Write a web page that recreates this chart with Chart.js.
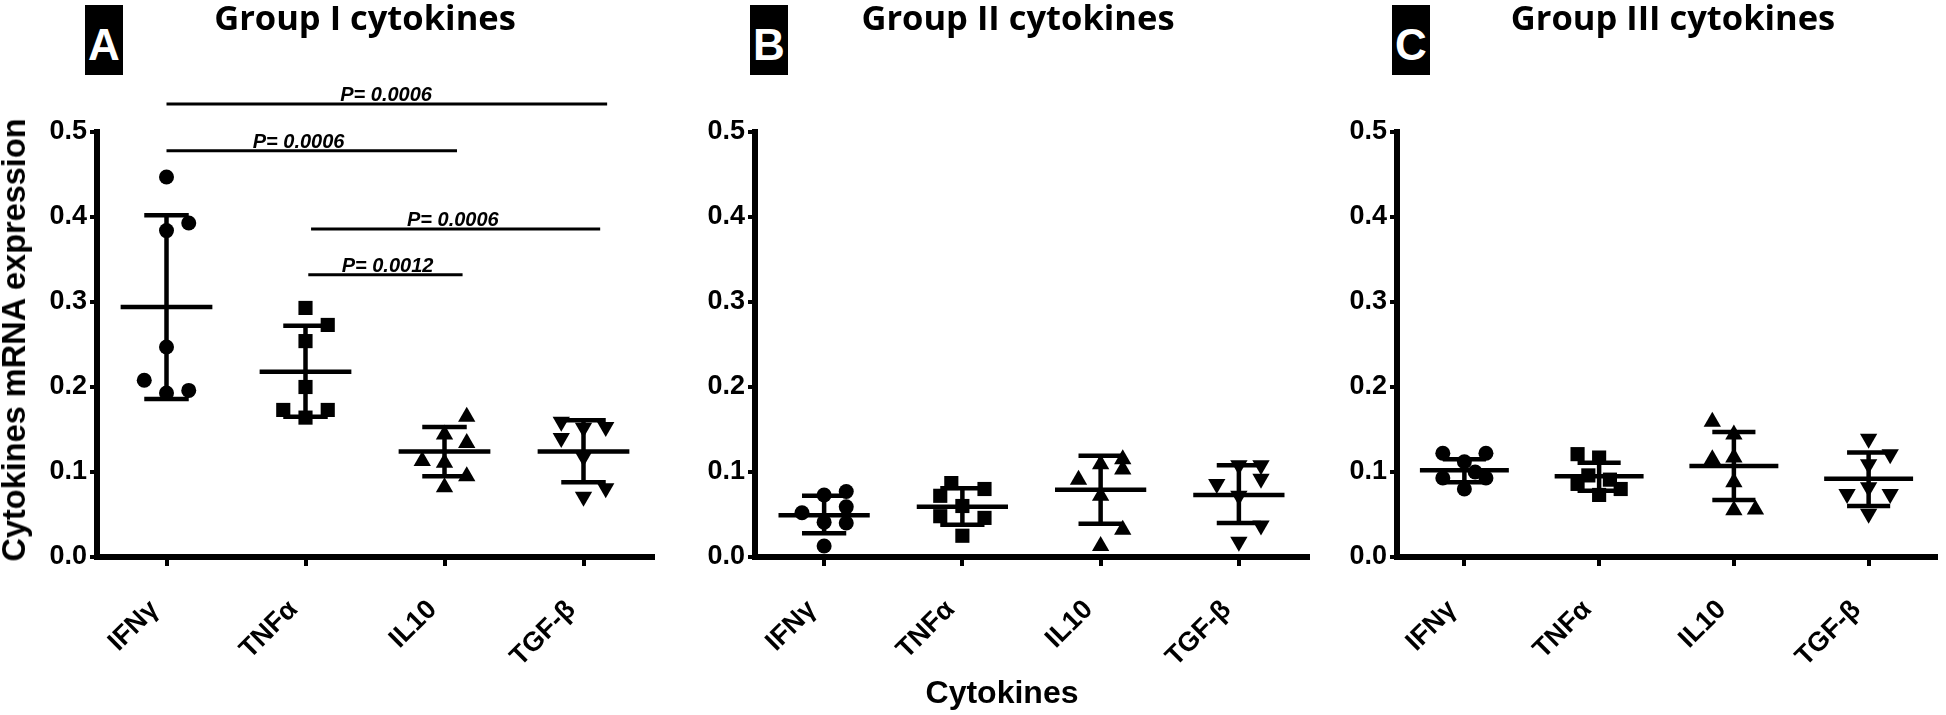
<!DOCTYPE html>
<html>
<head>
<meta charset="utf-8">
<title>Cytokines mRNA expression</title>
<script src="https://cdn.jsdelivr.net/npm/chart.js@4.4.1/dist/chart.umd.min.js"></script>
<style>
body { margin: 0; background: #fff; }
#fig { position: relative; width: 1946px; height: 715px; overflow: hidden; background: #fff; }
#fig canvas { position: absolute; top: 0; }
.tag { position: absolute; top: 5px; width: 38px; height: 70px; background: #000; color: #fff;
  font: bold 44px "Liberation Sans", Arial, sans-serif; line-height: 79px; text-align: center; overflow: hidden; }
.title { position: absolute; top: 0; transform: translateX(-50%); white-space: nowrap;
  font: bold 34.5px "Open Sans", sans-serif; line-height: 34px; }
#ytitle { position: absolute; left: 14px; top: 340px; transform: translate(-50%, -50%) rotate(-90deg);
  white-space: nowrap; font: bold 32.5px "Liberation Sans", Arial, sans-serif; line-height: 32px; }
#xtitle { position: absolute; left: 1002px; top: 676px; transform: translateX(-50%); white-space: nowrap;
  font: bold 32px "Liberation Sans", Arial, sans-serif; line-height: 32px; }
</style>
</head>
<body>
<div id="fig">
  <canvas id="chartA" width="680" height="715" style="left:0px"></canvas>
  <canvas id="chartB" width="640" height="715" style="left:680px"></canvas>
  <canvas id="chartC" width="626" height="715" style="left:1320px"></canvas>
  <div class="tag" style="left:85px">A</div>
  <div class="title" style="left:365px">Group I cytokines</div>
  <div class="tag" style="left:750px">B</div>
  <div class="title" style="left:1018px">Group II cytokines</div>
  <div class="tag" style="left:1392px">C</div>
  <div class="title" style="left:1673px">Group III cytokines</div>
  <div id="ytitle">Cytokines mRNA expression</div>
  <div id="xtitle">Cytokines</div>
</div>
<script>
var cytokines = ["IFNγ", "TNFα", "IL10", "TGF-β"];
var yTicks = [0.0, 0.1, 0.2, 0.3, 0.4, 0.5];

// Group I (A): one array per cytokine
var g1Values = [
    [0.447, 0.393, 0.384, 0.247, 0.208, 0.193, 0.196],
    [0.293, 0.273, 0.254, 0.200, 0.173, 0.173, 0.164],
    [0.165, 0.144, 0.134, 0.113, 0.111, 0.095, 0.082],
    [0.159, 0.152, 0.153, 0.140, 0.118, 0.081, 0.071]
];
var g1Lanes = [
    [0, 1, 0, 0, -1, 0, 1],
    [0, 1, 0, 0, -1, 1, 0],
    [1, 0, 1, -1, 0, 1, 0],
    [-1, 0, 1, -1, 0, 1, 0]
];
var g1Mean = [0.294, 0.218, 0.124, 0.124];
var g1Upper = [0.402, 0.272, 0.153, 0.161];
var g1Lower = [0.186, 0.165, 0.095, 0.088];

// Group II (B)
var g2Values = [
    [0.052, 0.073, 0.077, 0.059, 0.041, 0.040, 0.013],
    [0.087, 0.080, 0.072, 0.060, 0.048, 0.046, 0.025],
    [0.115, 0.109, 0.103, 0.091, 0.072, 0.032, 0.013],
    [0.108, 0.108, 0.092, 0.086, 0.072, 0.037, 0.018]
];
var g2Lanes = [
    [-1, 0, 1, 1, 0, 1, 0],
    [-0.5, 1, -1, 0, -1, 1, 0],
    [1, 0, 1, -1, 0, 1, 0],
    [0, 1, 1, -1, 0, 1, 0]
];
var g2Mean = [0.049, 0.059, 0.079, 0.073];
var g2Upper = [0.072, 0.081, 0.119, 0.108];
var g2Lower = [0.028, 0.038, 0.039, 0.040];

// Group III (C)
var g3Values = [
    [0.122, 0.122, 0.112, 0.100, 0.093, 0.093, 0.080],
    [0.121, 0.117, 0.096, 0.091, 0.086, 0.080, 0.073],
    [0.159, 0.144, 0.117, 0.115, 0.088, 0.055, 0.056],
    [0.139, 0.121, 0.109, 0.082, 0.074, 0.074, 0.051]
];
var g3Lanes = [
    [-1, 1, 0, 0.5, -1, 1, 0],
    [-1, 0, -0.5, 0.5, -1, 1, 0],
    [-1, 0, 0, -1, 0, 0, 1],
    [0, 1, 0, 0, -1, 1, 0]
];
var g3Mean = [0.102, 0.095, 0.107, 0.092];
var g3Upper = [0.115, 0.111, 0.147, 0.123];
var g3Lower = [0.088, 0.078, 0.067, 0.060];

// significance bars on panel A (x in category index units)
var sigFrom = [0, 0, 1.04, 1.02];
var sigTo = [3.17, 2.09, 3.12, 2.13];
var sigY = [0.533, 0.478, 0.386, 0.332];
var sigLabelX = [1.58, 0.95, 2.06, 1.59];
var sigText = ["P= 0.0006", "P= 0.0006", "P= 0.0006", "P= 0.0012"];

var FONT = '"Liberation Sans", Arial, sans-serif';
var LANE = 0.16;
var shapes = [
    { style: 'circle', r: 7.5, rot: 0 },
    { style: 'rect', r: 10, rot: 0 },
    { style: 'triangle', r: 10, rot: 0 },
    { style: 'triangle', r: 10, rot: 180 }
];

function errorSegments(mean, upper, lower) {
    var pts = [];
    for (var i = 0; i < mean.length; i++) {
        pts.push({ x: i - 0.33, y: mean[i] }, { x: i + 0.33, y: mean[i] }, { x: i, y: null });
        pts.push({ x: i - 0.16, y: upper[i] }, { x: i + 0.16, y: upper[i] }, { x: i, y: null });
        pts.push({ x: i - 0.16, y: lower[i] }, { x: i + 0.16, y: lower[i] }, { x: i, y: null });
        pts.push({ x: i, y: lower[i] }, { x: i, y: upper[i] }, { x: i, y: null });
    }
    return pts;
}

function sigSegments() {
    var pts = [];
    for (var k = 0; k < sigY.length; k++) {
        pts.push({ x: sigFrom[k], y: sigY[k] }, { x: sigTo[k], y: sigY[k] }, { x: sigFrom[k], y: null });
    }
    return pts;
}

const sigPlugin = {
    id: 'sigText',
    afterDatasetsDraw(chart) {
        if (chart.canvas.id !== 'chartA') return;
        var xs = chart.scales.x, ys = chart.scales.y, ctx = chart.ctx;
        ctx.save();
        ctx.font = 'italic bold 20px ' + FONT;
        ctx.fillStyle = '#000';
        ctx.textAlign = 'center';
        ctx.textBaseline = 'alphabetic';
        for (var k = 0; k < sigText.length; k++) {
            ctx.fillText(sigText[k], xs.getPixelForValue(sigLabelX[k]), ys.getPixelForValue(sigY[k]) - 3);
        }
        ctx.restore();
    }
};

function makePanel(id, vals, lanes, mean, upper, lower, yWidth, padRight, withSig) {
    var datasets = [{
        type: 'scatter',
        showLine: true,
        spanGaps: false,
        data: errorSegments(mean, upper, lower),
        borderColor: '#000',
        borderWidth: 4.5,
        pointRadius: 0,
        fill: false
    }];
    if (withSig) {
        datasets.push({
            type: 'scatter',
            showLine: true,
            spanGaps: false,
            clip: false,
            data: sigSegments(),
            borderColor: '#000',
            borderWidth: 3,
            pointRadius: 0,
            fill: false
        });
    }
    for (var i = 0; i < vals.length; i++) {
        var pts = [];
        for (var k = 0; k < vals[i].length; k++) {
            pts.push({ x: i + lanes[i][k] * LANE, y: vals[i][k] });
        }
        datasets.push({
            type: 'scatter',
            label: cytokines[i],
            data: pts,
            pointStyle: shapes[i].style,
            pointRadius: shapes[i].r,
            rotation: shapes[i].rot,
            backgroundColor: '#000',
            borderColor: '#000',
            borderWidth: 0,
            clip: false
        });
    }
    return new Chart(document.getElementById(id), {
        type: 'scatter',
        data: { datasets: datasets },
        plugins: [sigPlugin],
        options: {
            responsive: false,
            animation: false,
            events: [],
            layout: { padding: { left: 0, right: padRight, top: 132, bottom: 0 } },
            plugins: { legend: { display: false }, tooltip: { enabled: false }, title: { display: false } },
            scales: {
                x: {
                    type: 'linear',
                    min: -0.5,
                    max: 3.5,
                    afterBuildTicks: function (scale) {
                        scale.ticks = cytokines.map(function (c, j) { return { value: j }; });
                    },
                    afterFit: function (scale) { scale.height = 158; },
                    border: { display: true, color: '#000', width: 6 },
                    grid: { display: true, drawOnChartArea: false, drawTicks: true, tickLength: 9, tickWidth: 4, lineWidth: 4, color: '#000', tickColor: '#000' },
                    ticks: {
                        autoSkip: false,
                        minRotation: 45,
                        maxRotation: 45,
                        padding: 28,
                        labelOffset: -12,
                        color: '#000',
                        font: { family: FONT, size: 27, weight: 'bold' },
                        callback: function (v) { return cytokines[v]; }
                    }
                },
                y: {
                    type: 'linear',
                    min: 0,
                    max: 0.5,
                    afterBuildTicks: function (scale) {
                        scale.ticks = yTicks.map(function (v) { return { value: v }; });
                    },
                    afterFit: function (scale) { scale.width = yWidth; },
                    border: { display: true, color: '#000', width: 6 },
                    grid: { display: true, drawOnChartArea: false, drawTicks: true, tickLength: 7, tickWidth: 4, lineWidth: 4, color: '#000', tickColor: '#000' },
                    ticks: {
                        padding: 3,
                        color: '#000',
                        font: { family: FONT, size: 27, weight: 'bold' },
                        callback: function (v) { return v.toFixed(1); }
                    }
                }
            }
        }
    });
}

makePanel('chartA', g1Values, g1Lanes, g1Mean, g1Upper, g1Lower, 97, 27, true);
makePanel('chartB', g2Values, g2Lanes, g2Mean, g2Upper, g2Lower, 75, 12, false);
makePanel('chartC', g3Values, g3Lanes, g3Mean, g3Upper, g3Lower, 77, 0, false);
</script>
</body>
</html>
